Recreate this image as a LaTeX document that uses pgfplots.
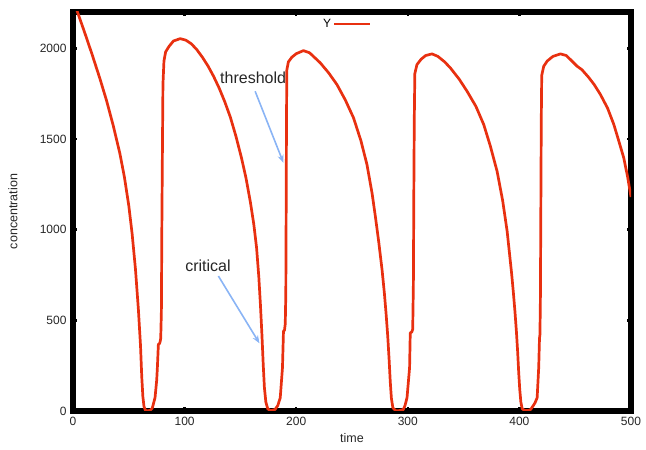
\documentclass[border=0pt]{standalone}
\usepackage{fontspec}
\setmainfont{Liberation Sans}
\usepackage{pgfplots}
\pgfplotsset{compat=1.18}
\usetikzlibrary{arrows.meta}
\definecolor{ored}{RGB}{232,48,16}
\definecolor{ablue}{RGB}{138,180,245}
\begin{document}
\begin{tikzpicture}
\begin{axis}[at={(0,0)},anchor=south west,scale only axis,
  width=558bp,height=399bp,
  xmin=0,xmax=500,ymin=0,ymax=2200,
  xtick={0,100,...,500},ytick={0,500,...,2000},
  tick align=inside,major tick length=4bp,
  tick style={line width=2.5bp,black},
  axis line style={line width=6bp},
  /pgf/number format/assume math mode=true,
  /pgf/number format/set thousands separator={},
  every tick label/.append style={font=\fontsize{12bp}{14bp}\selectfont,text=black!85},
  xticklabel style={anchor=north,yshift=-3bp},
  yticklabel style={anchor=east,xshift=-3bp},
  xlabel={time},ylabel={concentration},
  label style={font=\fontsize{12.5bp}{14bp}\selectfont,text=black!85},
  xlabel style={at={(axis description cs:0.5,-0.0677)},anchor=center},
  ylabel style={at={(axis description cs:-0.1075,0.5)},anchor=center},
  legend style={at={(axis description cs:0.49,1)},anchor=north,yshift=-3bp,
    draw=none,fill=none,font=\fontsize{12bp}{14bp}\selectfont},
  legend plot pos=right,
  legend image code/.code={\draw[#1,line width=2.5bp] (0bp,0bp) -- (36bp,0bp);},
]
\addplot[ored,line width=2.7bp,line join=round] coordinates {
(0,2270) (4,2200) (10,2095) (17,1968) (24,1835) (30,1713) (36,1575) (42,1420)
(46,1292) (50,1132) (53,976) (56,780) (58.6,559) (60.5,360) (61.6,190) (62.6,80) (63.6,25) (64.8,5)
(66,1) (69,3) (71,15) (73.5,73) (75,170) (75.6,239) (76.5,367) (77.5,372) (78,380)
(78.6,400) (79.2,550) (79.6,1000) (80.2,1500) (80.6,1800) (81.5,1930) (83,1980)
(86,2010) (90,2040) (96,2053) (101,2045) (106,2025) (111,1992) (116,1950) (121,1902)
(126,1845) (131,1780) (136,1705) (141,1620) (146,1515) (151,1395) (155,1285) (159,1150)
(162,1030) (164.5,900) (166.5,740) (168,580) (169.3,420) (170.5,250) (171.5,130)
(172.8,50) (174.5,12) (177,2) (181,8) (183.5,30)
(185.7,73) (187.7,239) (188.6,441) (189.5,445) (190.2,480) (190.7,650) (191,1100)
(191.3,1600) (191.6,1880) (193,1925) (196,1950) (200,1970) (206.5,1987) (212,1975)
(221.5,1920) (229,1865) (236.5,1800) (244,1715) (251.4,1616) (258,1490) (263.4,1359)
(268,1200) (271,1070) (274,930) (277,775) (279,650) (280.5,540) (282,415) (283.2,290)
(284.3,160) (285.3,70) (286.6,18) (289,2)
(292,2) (296,8) (297.5,30) (299.3,73) (301.6,239) (302.2,431) (303.5,435) (304.4,450)
(305,700) (305.4,1200) (305.8,1600) (306.3,1860) (308.2,1910) (312,1940) (316,1960)
(321.7,1969) (327,1955) (333,1925) (338.1,1892) (346,1830) (353.1,1763) (361,1680)
(368,1580) (374,1460) (380,1322) (385,1160) (389,992) (393,760) (394.5,660) (396,550)
(397.3,440) (398.4,330) (399.4,210) (400.3,120) (401.3,50) (402.5,12) (405,2)
(408,3) (410,8) (411.4,20) (414,45) (415.9,73)
(417.3,239) (418,400) (418.4,420) (418.8,606) (419.2,1100) (419.6,1600) (420,1850)
(421.8,1901) (425,1930) (430,1955) (436.8,1969) (442,1960) (447,1930) (451.7,1901)
(456,1882) (462,1840) (467,1800) (472.6,1745) (479,1670) (484.6,1580) (489,1490)
(493.5,1396) (497,1290) (500,1180)
};
\addlegendentry{Y}
\draw[ablue,line width=1.6bp,-{Stealth[length=8bp,width=6bp]}] (axis cs:163.2,1763) -- (axis cs:188.6,1368);
\draw[ablue,line width=1.6bp,-{Stealth[length=8bp,width=6bp]}] (axis cs:130.3,744) -- (axis cs:167.1,373);
\node[font=\fontsize{16bp}{18bp}\selectfont,text=black!85] at (axis cs:161.4,1835) {threshold};
\node[font=\fontsize{16bp}{18bp}\selectfont,text=black!85] at (axis cs:121,799) {critical};
\end{axis}
\pgfresetboundingbox
\path[use as bounding box] (-73bp,-39bp) rectangle (573bp,411bp);
\end{tikzpicture}
\end{document}
